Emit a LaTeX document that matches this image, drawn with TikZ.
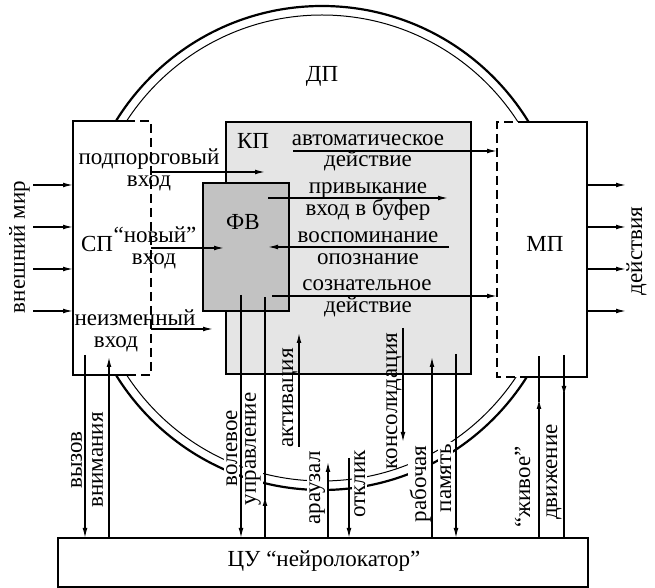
\documentclass[tikz,border=0pt]{standalone}
\usepackage{fontspec}
\setmainfont{Liberation Serif}
\usetikzlibrary{arrows.meta,fit}

\definecolor{kpgray}{gray}{0.90}
\definecolor{fvgray}{gray}{0.76}

\begin{document}
\begin{tikzpicture}[x=0.5pt,y=-0.5pt,
    every node/.style={font=\fontsize{11.5}{13}\selectfont},
    arr/.style={line width=0.65pt,-{Latex[length=5pt,width=2.4pt]}},
    ln/.style={line width=0.65pt},
    border/.style={line width=0.8pt},
    dashborder/.style={line width=0.8pt,dash pattern=on 4.5pt off 2.5pt},
    block/.style={inner sep=0pt,outer sep=0pt},
    txt/.style={anchor=base,inner sep=0pt},
    vtxt/.style={rotate=90,anchor=base,inner sep=0pt},
    cut/.style={fill=white,inner sep=1pt}]
    \useasboundingbox (0,0) rectangle (655,588);

    % ДП ring
    \coordinate (dpc) at (322,248);
    \draw[line width=1.1pt] (dpc) circle[radius=242];
    \draw[line width=0.5pt] (dpc) circle[radius=233];
    \node[txt] (dp) at (322,82) {ДП};

    % blocks
    \node[block,fit={(73,121) (151,375)},fill=white] (sp) {};
    \node[block,fit={(497,122) (587,377)},fill=white] (mp) {};
    \node[block,fit={(226,122) (471,374)},fill=kpgray,draw,border] (kp) {};
    \node[block,fit={(203,183) (289,311)},fill=fvgray,draw,border] (fv) {};
    \node[block,fit={(58,538) (588,587)},fill=white,draw,border] (cu) {};

    % СП and МП: solid outside the ring, dashed inside
    \draw[border] (126,121) -- (sp.north west) -- (sp.south west) -- (128,375);
    \draw[dashborder] (126,121) -- (sp.north east) -- (sp.south east) -- (128,375);
    \draw[border] (527,122) -- (mp.north east) -- (mp.south east) -- (525,377);
    \draw[dashborder] (527,122) -- (mp.north west) -- (mp.south west) -- (525,377);

    \node[txt] (kp-l) at (253,149) {КП};
    \node[txt] (fv-l) at (243,230) {ФВ};
    \node[txt] (sp-l) at (97,252) {СП};
    \node[txt] (mp-l) at (545,252) {МП};
    \node[txt] (cu-l) at (324,567) {ЦУ “нейролокатор”};

    % labels that break the ring
    \node[vtxt,cut] (vol) at (237,448) {волевое};
    \node[vtxt,cut] (upr) at (256,449) {управление};
    \node[vtxt,cut] (ara) at (320,488) {араузал};
    \node[vtxt,cut] (otk) at (365,484) {отклик};
    \node[vtxt,cut] (rab) at (426,484) {рабочая};
    \node[vtxt,cut] (pam) at (451,478) {память};

    % outer world and actions
    \node[vtxt] (world) at (25,247) {внешний мир};
    \node[vtxt] (act) at (642,251) {действия};
    \foreach \y in {185,227,269,311} {
        \draw[arr] (33,\y) -- (sp.west |- 0,\y);
        \draw[arr] (mp.east |- 0,\y) -- (626,\y);
    }

    % inputs
    \node[txt] (sub) at (149,165) {подпороговый};
    \node[txt] (sub2) at (149,187) {вход};
    \draw[arr] (sp.east |- 0,172) -- (265,172);
    \node[txt] (new) at (155,243) {“новый”};
    \node[txt] (new2) at (154,265) {вход};
    \draw[arr] (sp.east |- 0,248) -- (224,248);
    \node[txt] (inv) at (135,326) {неизменный};
    \node[txt] (inv2) at (116,348) {вход};
    \draw[arr] (sp.east |- 0,329) -- (213,329);

    % КП flows
    \node[txt] (aut) at (368,146) {автоматическое};
    \node[txt] (aut2) at (368,167) {действие};
    \draw[arr] (293,151) -- (mp.west |- 0,151);
    \node[txt] (hab) at (368,194) {привыкание};
    \node[txt] (hab2) at (368,216) {вход в буфер};
    \draw[arr] (268,198) -- (448,198);
    \node[txt] (rec) at (368,243) {воспоминание};
    \node[txt] (rec2) at (368,265) {опознание};
    \draw[arr] (449,247) -- (268,247);
    \node[txt] (con) at (367,291) {сознательное};
    \node[txt] (con2) at (368,313) {действие};
    \draw[arr] (272,296) -- (mp.west |- 0,296);

    % links to ЦУ
    \node[vtxt] (call) at (82,460) {вызов};
    \node[vtxt] (call2) at (103,460) {внимания};
    \draw[arr] (85,355) -- (85,0 |- cu.north);
    \draw[arr] (109,0 |- cu.north) -- (109,357);
    \draw[arr] (241,295) -- (241,0 |- cu.north);
    \draw[arr] (265,0 |- cu.north) -- (265,496);
    \draw[ln] (265,500) -- (265,297);
    \node[vtxt] (actv) at (293,398) {активация};
    \draw[arr] (299,447) -- (299,333);
    \draw[arr] (328,0 |- cu.north) -- (328,462);
    \draw[arr] (349,458) -- (349,0 |- cu.north);
    \node[vtxt] (cons) at (397,401) {консолидация};
    \draw[arr] (403,328) -- (403,442);
    \draw[arr] (432,0 |- cu.north) -- (432,357);
    \draw[arr] (456,354) -- (456,0 |- cu.north);
    \node[vtxt] (liv) at (530,487) {“живое”};
    \node[vtxt] (mov) at (557,472) {движение};
    \draw[arr] (539,0 |- cu.north) -- (539,399);
    \draw[ln] (539,402) -- (539,356);
    \draw[arr] (564,355) -- (564,396);
    \draw[ln] (564,392) -- (564,0 |- cu.north);
\end{tikzpicture}
\end{document}
